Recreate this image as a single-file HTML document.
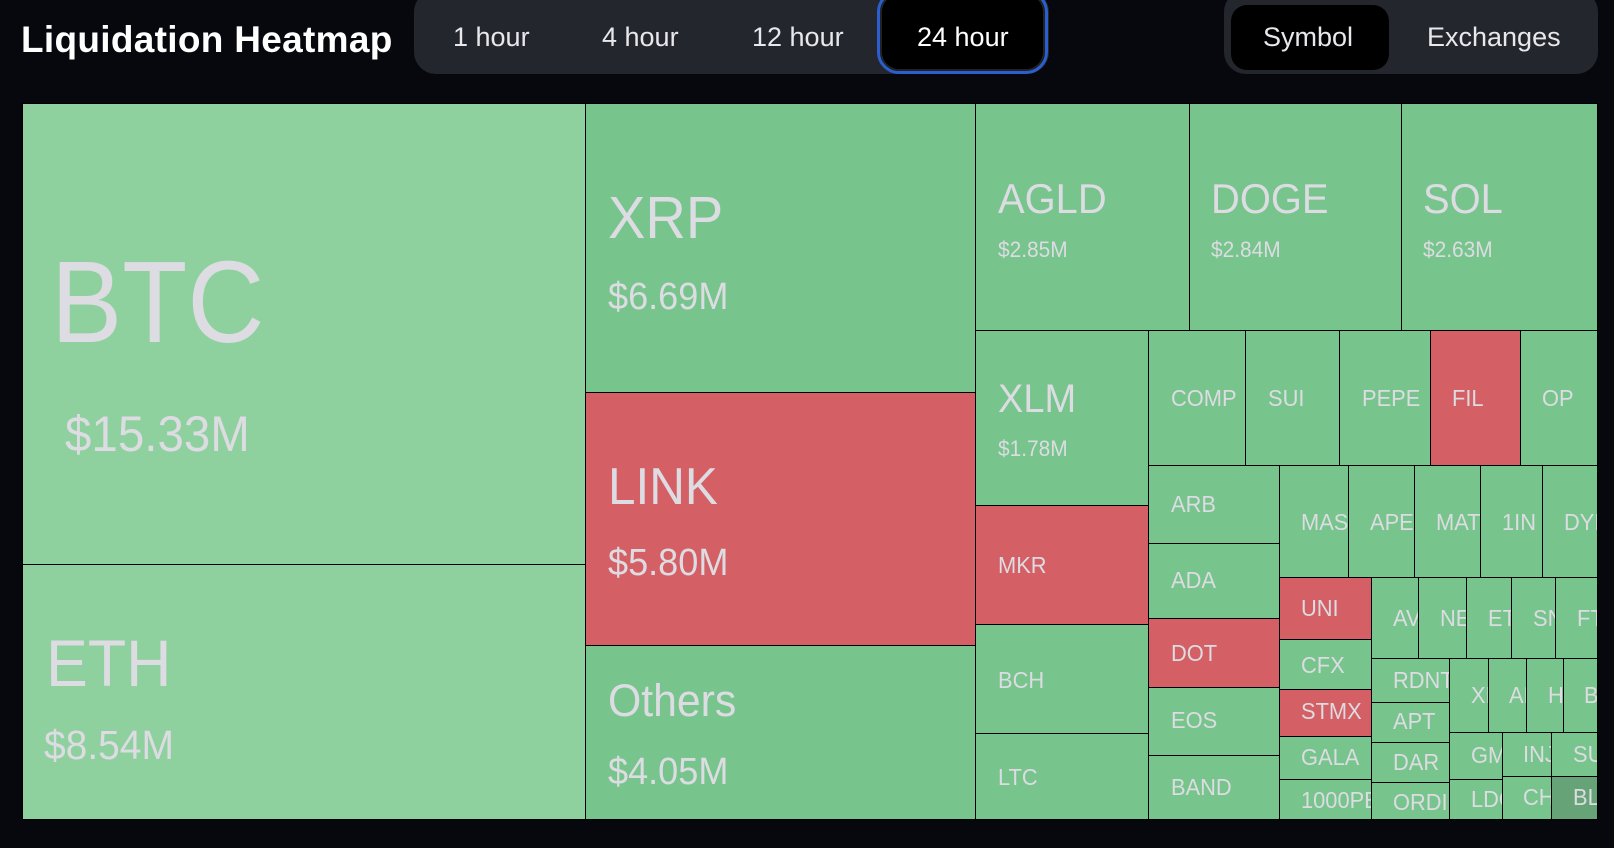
<!DOCTYPE html>
<html><head><meta charset="utf-8"><style>
*{margin:0;padding:0;box-sizing:border-box}
body{width:1614px;height:848px;background:#07080d;position:relative;overflow:hidden;font-family:"Liberation Sans",sans-serif}
.c{position:absolute;border:1px solid #000;overflow:hidden;background:#77c58d}
.l{background:#8fd19e}.r{background:#d45f65}.d{background:#66a377}
.t{position:absolute;color:#dcdce2;white-space:nowrap;line-height:1;transform:scaleX(0.95);transform-origin:0 0}
#map{position:absolute;left:22px;top:103px;width:1576px;height:717px;background:#000}
.h{position:absolute;color:#e8e8ec;white-space:nowrap;line-height:1;font-size:27px;transform-origin:0 0}
</style></head><body>
<div class="h" style="left:21px;top:21px;font-size:37px;font-weight:bold;color:#fff;letter-spacing:0.3px">Liquidation Heatmap</div>
<div style="position:absolute;left:414px;top:-10px;width:635px;height:84px;background:#23262d;border-radius:22px"></div>
<div style="position:absolute;left:877px;top:-10px;width:171px;height:84px;border:3px solid #2b5fd0;border-radius:22px;background:#000;box-shadow:inset 0 0 0 2px #222"></div>
<div class="h" style="left:453px;top:24px">1 hour</div>
<div class="h" style="left:602px;top:24px">4 hour</div>
<div class="h" style="left:752px;top:24px">12 hour</div>
<div class="h" style="left:917px;top:24px;color:#fff">24 hour</div>
<div style="position:absolute;left:1224px;top:-10px;width:374px;height:84px;background:#23262d;border-radius:22px"></div>
<div style="position:absolute;left:1231px;top:5px;width:158px;height:65px;background:#000;border-radius:16px"></div>
<div class="h" style="left:1263px;top:24px">Symbol</div>
<div class="h" style="left:1427px;top:24px">Exchanges</div>

<div id="map"></div>
<div class="c l" style="left:22px;top:103px;width:564px;height:462px"><div class="t" style="left:28px;top:140px;font-size:116px;transform:scaleX(0.92)">BTC</div><div class="t" style="left:42px;top:305px;font-size:50px">$15.33M</div></div>
<div class="c l" style="left:22px;top:564px;width:564px;height:256px"><div class="t" style="left:23px;top:65px;font-size:66px">ETH</div><div class="t" style="left:21px;top:160px;font-size:41px">$8.54M</div></div>
<div class="c" style="left:585px;top:103px;width:391px;height:290px"><div class="t" style="left:22px;top:85px;font-size:59px">XRP</div><div class="t" style="left:22px;top:174px;font-size:38px">$6.69M</div></div>
<div class="c r" style="left:585px;top:392px;width:391px;height:254px"><div class="t" style="left:22px;top:68px;font-size:52px">LINK</div><div class="t" style="left:22px;top:151px;font-size:38px">$5.80M</div></div>
<div class="c" style="left:585px;top:645px;width:391px;height:175px"><div class="t" style="left:22px;top:32px;font-size:45px">Others</div><div class="t" style="left:22px;top:107px;font-size:38px">$4.05M</div></div>
<div class="c" style="left:975px;top:103px;width:215px;height:228px"><div class="t" style="left:22px;top:74px;font-size:42px">AGLD</div><div class="t" style="left:22px;top:135px;font-size:22px">$2.85M</div></div>
<div class="c" style="left:1189px;top:103px;width:213px;height:228px"><div class="t" style="left:21px;top:74px;font-size:42px">DOGE</div><div class="t" style="left:21px;top:135px;font-size:22px">$2.84M</div></div>
<div class="c" style="left:1401px;top:103px;width:197px;height:228px"><div class="t" style="left:21px;top:74px;font-size:42px">SOL</div><div class="t" style="left:21px;top:135px;font-size:22px">$2.63M</div></div>
<div class="c" style="left:975px;top:330px;width:175px;height:176px"><div class="t" style="left:22px;top:48px;font-size:40px">XLM</div><div class="t" style="left:22px;top:107px;font-size:22px">$1.78M</div></div>
<div class="c r" style="left:975px;top:505px;width:175px;height:120px"><div class="t" style="left:22px;top:48px;font-size:23px">MKR</div></div>
<div class="c" style="left:975px;top:624px;width:175px;height:110px"><div class="t" style="left:22px;top:44px;font-size:23px">BCH</div></div>
<div class="c" style="left:975px;top:733px;width:175px;height:87px"><div class="t" style="left:22px;top:32px;font-size:23px">LTC</div></div>
<div class="c" style="left:1148px;top:330px;width:98px;height:136px"><div class="t" style="left:22px;top:56px;font-size:23px">COMP</div></div>
<div class="c" style="left:1245px;top:330px;width:95px;height:136px"><div class="t" style="left:22px;top:56px;font-size:23px">SUI</div></div>
<div class="c" style="left:1339px;top:330px;width:92px;height:136px"><div class="t" style="left:22px;top:56px;font-size:23px">PEPE</div></div>
<div class="c r" style="left:1430px;top:330px;width:91px;height:136px"><div class="t" style="left:21px;top:56px;font-size:23px">FIL</div></div>
<div class="c" style="left:1520px;top:330px;width:78px;height:136px"><div class="t" style="left:21px;top:56px;font-size:23px">OP</div></div>
<div class="c" style="left:1148px;top:465px;width:132px;height:79px"><div class="t" style="left:22px;top:27px;font-size:23px">ARB</div></div>
<div class="c" style="left:1148px;top:543px;width:132px;height:76px"><div class="t" style="left:22px;top:25px;font-size:23px">ADA</div></div>
<div class="c r" style="left:1148px;top:618px;width:132px;height:70px"><div class="t" style="left:22px;top:23px;font-size:23px">DOT</div></div>
<div class="c" style="left:1148px;top:687px;width:132px;height:69px"><div class="t" style="left:22px;top:21px;font-size:23px">EOS</div></div>
<div class="c" style="left:1148px;top:755px;width:132px;height:65px"><div class="t" style="left:22px;top:20px;font-size:23px">BAND</div></div>
<div class="c" style="left:1279px;top:465px;width:70px;height:113px"><div class="t" style="left:21px;top:45px;font-size:23px">MAS</div></div>
<div class="c" style="left:1348px;top:465px;width:67px;height:113px"><div class="t" style="left:21px;top:45px;font-size:23px">APE</div></div>
<div class="c" style="left:1414px;top:465px;width:67px;height:113px"><div class="t" style="left:21px;top:45px;font-size:23px">MAT</div></div>
<div class="c" style="left:1480px;top:465px;width:63px;height:113px"><div class="t" style="left:21px;top:45px;font-size:23px">1IN</div></div>
<div class="c" style="left:1542px;top:465px;width:56px;height:113px"><div class="t" style="left:21px;top:45px;font-size:23px">DYDX</div></div>
<div class="c r" style="left:1279px;top:577px;width:93px;height:63px"><div class="t" style="left:21px;top:19px;font-size:23px">UNI</div></div>
<div class="c" style="left:1279px;top:639px;width:93px;height:51px"><div class="t" style="left:21px;top:14px;font-size:23px">CFX</div></div>
<div class="c r" style="left:1279px;top:689px;width:93px;height:48px"><div class="t" style="left:21px;top:10px;font-size:23px">STMX</div></div>
<div class="c" style="left:1279px;top:736px;width:93px;height:44px"><div class="t" style="left:21px;top:9px;font-size:23px">GALA</div></div>
<div class="c" style="left:1279px;top:779px;width:93px;height:41px"><div class="t" style="left:21px;top:9px;font-size:23px">1000PEPE</div></div>
<div class="c" style="left:1371px;top:577px;width:48px;height:82px"><div class="t" style="left:21px;top:29px;font-size:23px">AVAX</div></div>
<div class="c" style="left:1418px;top:577px;width:49px;height:82px"><div class="t" style="left:21px;top:29px;font-size:23px">NEAR</div></div>
<div class="c" style="left:1466px;top:577px;width:46px;height:82px"><div class="t" style="left:21px;top:29px;font-size:23px">ETC</div></div>
<div class="c" style="left:1511px;top:577px;width:45px;height:82px"><div class="t" style="left:21px;top:29px;font-size:23px">SNX</div></div>
<div class="c" style="left:1555px;top:577px;width:43px;height:82px"><div class="t" style="left:21px;top:29px;font-size:23px">FTM</div></div>
<div class="c" style="left:1371px;top:658px;width:79px;height:45px"><div class="t" style="left:21px;top:10px;font-size:23px">RDNT</div></div>
<div class="c" style="left:1371px;top:702px;width:79px;height:41px"><div class="t" style="left:21px;top:7px;font-size:23px">APT</div></div>
<div class="c" style="left:1371px;top:742px;width:79px;height:41px"><div class="t" style="left:21px;top:8px;font-size:23px">DAR</div></div>
<div class="c" style="left:1371px;top:782px;width:79px;height:38px"><div class="t" style="left:21px;top:8px;font-size:23px">ORDI</div></div>
<div class="c" style="left:1449px;top:658px;width:40px;height:75px"><div class="t" style="left:21px;top:25px;font-size:23px">XRP</div></div>
<div class="c" style="left:1488px;top:658px;width:39px;height:75px"><div class="t" style="left:20px;top:25px;font-size:23px">AR</div></div>
<div class="c" style="left:1526px;top:658px;width:38px;height:75px"><div class="t" style="left:21px;top:25px;font-size:23px">HBAR</div></div>
<div class="c" style="left:1563px;top:658px;width:35px;height:75px"><div class="t" style="left:20px;top:25px;font-size:23px">BNB</div></div>
<div class="c" style="left:1449px;top:732px;width:54px;height:48px"><div class="t" style="left:21px;top:11px;font-size:23px">GMT</div></div>
<div class="c" style="left:1449px;top:779px;width:54px;height:41px"><div class="t" style="left:21px;top:8px;font-size:23px">LDO</div></div>
<div class="c" style="left:1502px;top:732px;width:50px;height:45px"><div class="t" style="left:20px;top:10px;font-size:23px">INJ</div></div>
<div class="c" style="left:1502px;top:776px;width:50px;height:44px"><div class="t" style="left:20px;top:9px;font-size:23px">CHZ</div></div>
<div class="c" style="left:1551px;top:732px;width:47px;height:45px"><div class="t" style="left:21px;top:10px;font-size:23px">SUSHI</div></div>
<div class="c d" style="left:1551px;top:776px;width:47px;height:44px"><div class="t" style="left:21px;top:9px;font-size:23px">BLUR</div></div>
</body></html>
